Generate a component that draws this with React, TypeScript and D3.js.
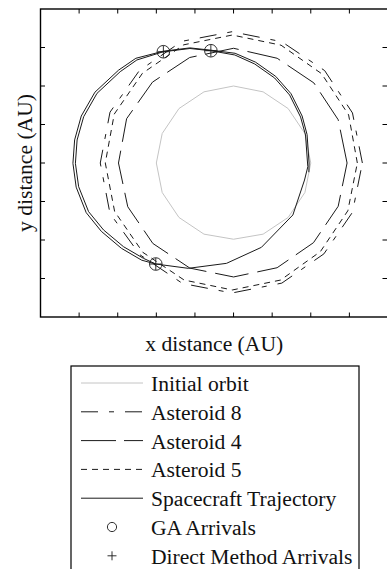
import React from 'react';
import * as d3 from 'd3';

type Pt = [number, number];

// Orbits in the ecliptic plane (AU), drawn as sampled polygons
const initialOrbit: Pt[] = [
  [1.0, 0.0], [0.924, 0.383], [0.707, 0.707], [0.383, 0.924], [0.0, 1.0],
  [-0.383, 0.924], [-0.707, 0.707], [-0.924, 0.383], [-1.0, 0.0],
  [-0.924, -0.383], [-0.707, -0.707], [-0.383, -0.924], [0.0, -0.99],
  [0.383, -0.924], [0.707, -0.707], [0.924, -0.383], [1.0, 0.0],
];

const asteroid8: Pt[] = [
  [1.668, 0.0], [1.54, 0.65], [1.18, 1.2], [0.625, 1.575], [-0.02, 1.705],
  [-0.67, 1.58], [-1.22, 1.2], [-1.6, 0.66], [-1.726, 0.0],
  [-1.6, -0.655], [-1.215, -1.19], [-0.66, -1.565], [-0.02, -1.688],
  [0.625, -1.56], [1.17, -1.18], [1.54, -0.64], [1.668, 0.0],
];

const asteroid4: Pt[] = [
  [1.47, 0.0], [1.355, 0.562], [1.04, 1.04], [0.565, 1.36], [0.0, 1.49],
  [-0.568, 1.37], [-1.05, 1.05], [-1.385, 0.575], [-1.49, 0.0],
  [-1.37, -0.568], [-1.045, -1.045], [-0.566, -1.365], [0.0, -1.48],
  [0.564, -1.36], [1.035, -1.035], [1.355, -0.562], [1.47, 0.0],
];

const asteroid5: Pt[] = [
  [1.603, 0.0], [1.49, 0.625], [1.14, 1.16], [0.615, 1.53], [-0.016, 1.662],
  [-0.645, 1.535], [-1.18, 1.165], [-1.545, 0.635], [-1.661, 0.0],
  [-1.54, -0.63], [-1.175, -1.16], [-0.64, -1.52], [-0.016, -1.649],
  [0.61, -1.52], [1.125, -1.15], [1.48, -0.62], [1.603, 0.0],
];

// Spacecraft trajectories (GA solution and direct-method solution)
const trajectoryGA: Pt[] = [
  [0.962, -0.048], [0.958, 0.0], [0.932, 0.364], [0.868, 0.597], [0.726, 0.883],
  [0.532, 1.104], [0.274, 1.286], [0.016, 1.403], [-0.294, 1.458], [-0.565, 1.487],
  [-0.909, 1.445], [-1.252, 1.338], [-1.468, 1.186], [-1.768, 0.905], [-1.941, 0.601],
  [-2.026, 0.299], [-2.048, -0.004], [-2.006, -0.308], [-1.877, -0.632], [-1.683, -0.87],
  [-1.425, -1.087], [-1.167, -1.238], [-1.007, -1.312], [-0.586, -1.368], [-0.091, -1.303],
  [0.361, -1.095], [0.768, -0.675], [0.919, -0.221], [0.962, -0.048],
];

const trajectoryDirect: Pt[] = [
  [0.975, -0.12], [0.978, 0.0], [0.952, 0.37], [0.888, 0.61], [0.744, 0.9],
  [0.546, 1.125], [0.284, 1.31], [0.02, 1.425], [-0.294, 1.465], [-0.565, 1.495],
  [-0.909, 1.452], [-1.265, 1.36], [-1.49, 1.205], [-1.795, 0.92], [-1.972, 0.61],
  [-2.058, 0.3], [-2.08, -0.004], [-2.038, -0.314], [-1.908, -0.645], [-1.712, -0.888],
  [-1.452, -1.108], [-1.19, -1.262], [-1.007, -1.312],
];

const gaArrivals: Pt[] = [[-1.007, -1.312], [-0.909, 1.445], [-0.294, 1.458]];
const directArrivals: Pt[] = [[-1.007, -1.312], [-0.909, 1.445], [-0.294, 1.458]];

const xTicks = [-2, -1.5, -1, -0.5, 0, 0.5, 1, 1.5];
const yTicks = [-1.5, -1, -0.5, 0, 0.5, 1, 1.5];

const legendLabels = [
  'Initial orbit',
  'Asteroid 8',
  'Asteroid 4',
  'Asteroid 5',
  'Spacecraft Trajectory',
  'GA Arrivals',
  'Direct Method Arrivals',
];

const W = 387;
const H = 569;
const plot = { left: 40.5, right: 388, top: 9, bottom: 317 };
const FONT = '"Liberation Serif", "Times New Roman", Times, serif';
const INK = '#1a1a1a';
const FS = 21.6;

export default function App() {
  const x = d3.scaleLinear().domain([-2.5, 2.0]).range([plot.left, plot.right]);
  const y = d3.scaleLinear().domain([-2, 2]).range([plot.bottom, plot.top]);
  const line = d3.line<Pt>().x((d) => x(d[0])).y((d) => y(d[1]));
  const tick = 4.5;

  const series = [
    { data: initialOrbit, stroke: '#c4c4c4', dash: undefined as string | undefined },
    { data: asteroid8, stroke: INK, dash: '17,11,5,11' },
    { data: asteroid4, stroke: INK, dash: '34,9' },
    { data: asteroid5, stroke: INK, dash: '6,5' },
    { data: trajectoryGA, stroke: INK, dash: undefined },
    { data: trajectoryDirect, stroke: INK, dash: undefined },
  ];

  const legendLine = [
    { stroke: '#c4c4c4', dash: undefined as string | undefined },
    { stroke: INK, dash: '17,11,5,11' },
    { stroke: INK, dash: '35,8,19,8' },
    { stroke: INK, dash: '6,5' },
    { stroke: INK, dash: undefined },
  ];

  const lg = { left: 71, right: 359, top: 366, x0: 81, x1: 143, textX: 151, row0: 383, step: 28.8 };

  return (
    <svg
      width={W}
      height={H}
      viewBox={`0 0 ${W} ${H}`}
      style={{ position: 'absolute', left: 0, top: 0, background: '#fff' }}
      fontFamily={FONT}
    >
      <defs>
        <clipPath id="plot-area">
          <rect x={plot.left} y={plot.top} width={plot.right - plot.left} height={plot.bottom - plot.top} />
        </clipPath>
      </defs>

      <g clipPath="url(#plot-area)">
        {series.map((s, i) => (
          <path
            key={i}
            d={line(s.data) ?? ''}
            fill="none"
            stroke={s.stroke}
            strokeWidth={1}
            strokeDasharray={s.dash}
          />
        ))}
        {gaArrivals.map((d, i) => (
          <circle key={`ga${i}`} cx={x(d[0])} cy={y(d[1])} r={6.3} fill="none" stroke={INK} strokeWidth={0.9} />
        ))}
        {directArrivals.map((d, i) => (
          <g key={`dm${i}`} stroke={INK} strokeWidth={0.9}>
            <line x1={x(d[0]) - 6} x2={x(d[0]) + 6} y1={y(d[1])} y2={y(d[1])} />
            <line x1={x(d[0])} x2={x(d[0])} y1={y(d[1]) - 6} y2={y(d[1]) + 6} />
          </g>
        ))}
      </g>

      {/* box axes with inward ticks */}
      <g stroke="#000" strokeWidth={1}>
        {xTicks.map((t) => (
          <g key={`xt${t}`}>
            <line x1={x(t)} x2={x(t)} y1={plot.top} y2={plot.top + tick} />
            <line x1={x(t)} x2={x(t)} y1={plot.bottom} y2={plot.bottom - tick} />
          </g>
        ))}
        {yTicks.map((t) => (
          <g key={`yt${t}`}>
            <line x1={plot.left} x2={plot.left + tick} y1={y(t)} y2={y(t)} />
            <line x1={plot.right} x2={plot.right - tick - 1} y1={y(t)} y2={y(t)} />
          </g>
        ))}
      </g>
      <rect
        x={plot.left}
        y={plot.top}
        width={plot.right - plot.left}
        height={plot.bottom - plot.top}
        fill="none"
        stroke="#000"
        strokeWidth={1.4}
      />

      <text x={(plot.left + plot.right) / 2} y={351} textAnchor="middle" fontSize={FS} fill="#111">
        x distance (AU)
      </text>
      <text
        transform={`translate(32,${(plot.top + plot.bottom) / 2}) rotate(-90)`}
        textAnchor="middle"
        fontSize={FS}
        fill="#111"
      >
        y distance (AU)
      </text>

      {/* legend */}
      <rect x={lg.left} y={lg.top} width={lg.right - lg.left} height={H + 10 - lg.top} fill="#fff" stroke="#000" strokeWidth={1.2} />
      {legendLabels.map((label, i) => {
        const cy = lg.row0 + i * lg.step;
        const cx = (lg.x0 + lg.x1) / 2;
        return (
          <g key={label}>
            {i < legendLine.length && (
              <line
                x1={lg.x0}
                x2={lg.x1}
                y1={cy}
                y2={cy}
                stroke={legendLine[i].stroke}
                strokeWidth={1}
                strokeDasharray={legendLine[i].dash}
              />
            )}
            {i === 5 && <circle cx={cx} cy={cy} r={4.6} fill="none" stroke={INK} strokeWidth={0.9} />}
            {i === 6 && (
              <g stroke={INK} strokeWidth={0.9}>
                <line x1={cx - 4.5} x2={cx + 4.5} y1={cy} y2={cy} />
                <line x1={cx} x2={cx} y1={cy - 4.5} y2={cy + 4.5} />
              </g>
            )}
            <text x={lg.textX} y={cy + 8} fontSize={FS} fill="#111">
              {label}
            </text>
          </g>
        );
      })}
    </svg>
  );
}
